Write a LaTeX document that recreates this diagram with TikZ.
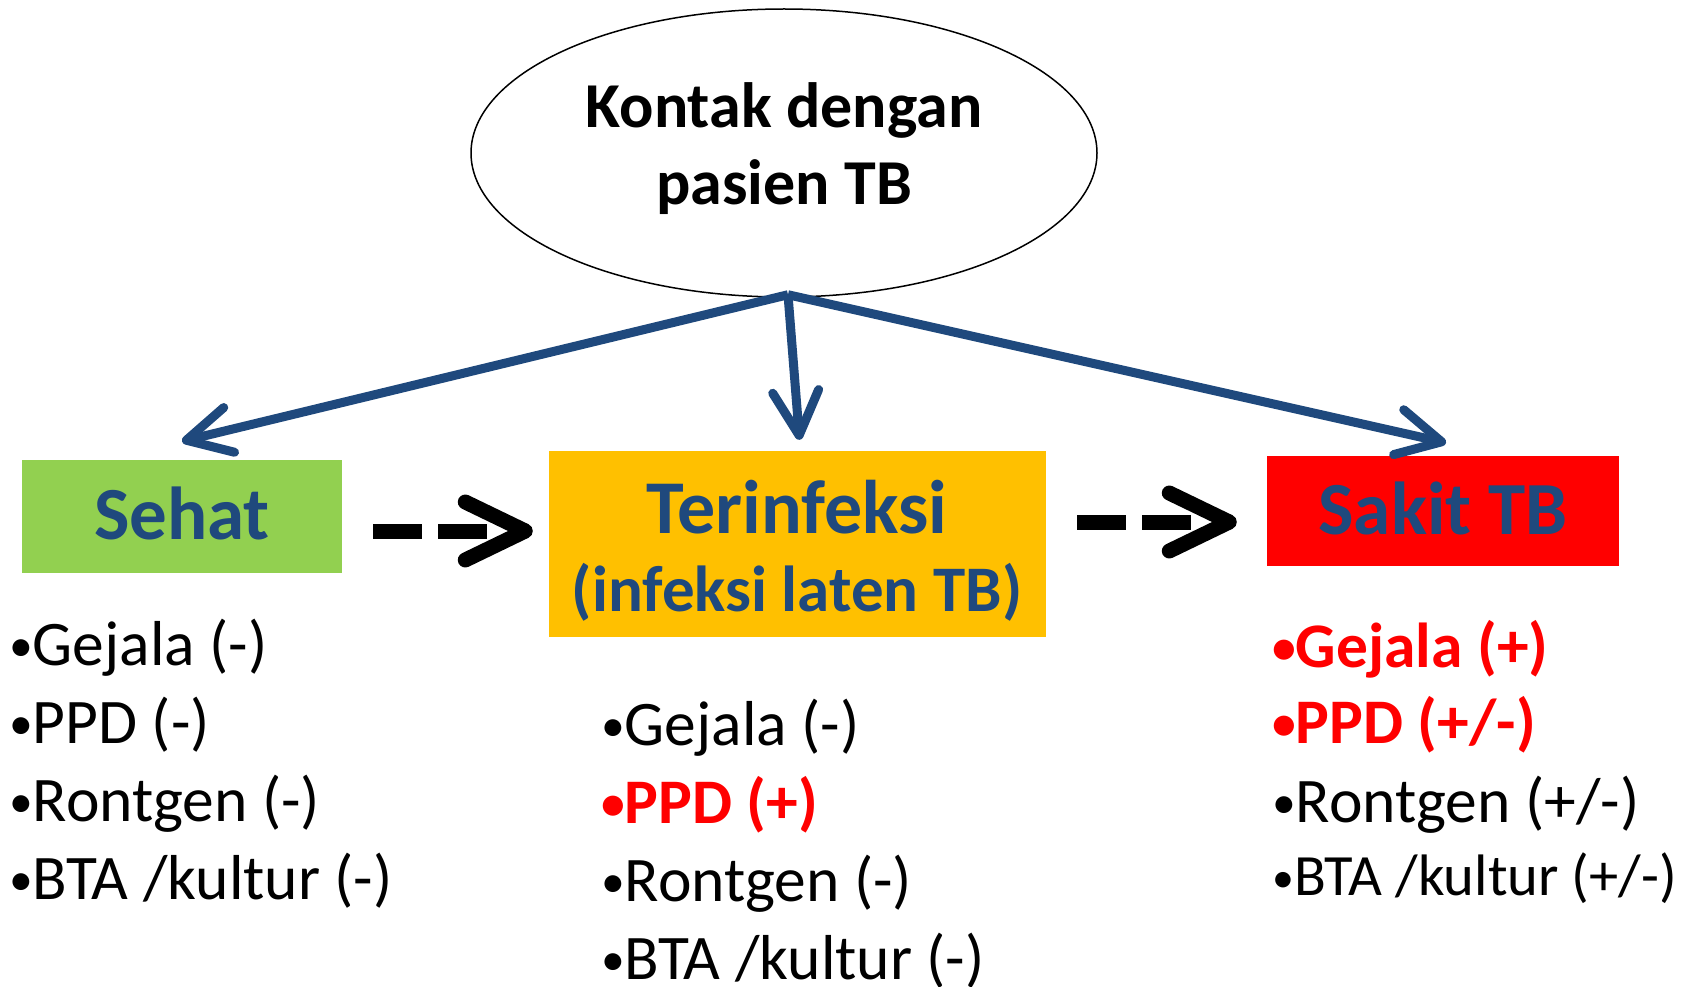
\documentclass[tikz,border=0pt]{standalone}
\usepackage{fontspec}
\usepackage{graphicx}
\setmainfont{Carlito}
\usetikzlibrary{arrows.meta,shapes.geometric}
\definecolor{tbblue}{RGB}{31,73,125}
\definecolor{tbgreen}{RGB}{146,208,80}
\definecolor{tborange}{RGB}{255,192,0}
\definecolor{tbred}{RGB}{255,0,0}
% small list bullet
\newcommand\tbdot{\raisebox{0.05em}{\scalebox{0.75}{•}}}

\begin{document}
\begin{tikzpicture}[x=1pt,y=-1pt,
  stagebox/.style={rectangle, inner sep=0pt, text=tbblue,
    font=\fontsize{75}{82}\selectfont\bfseries, text height=47.4pt, text depth=0pt},
  stagelabel/.style={anchor=base, inner sep=0pt, text=tbblue},
  flow/.style={draw=tbblue, line width=9pt,
    -{Straight Barb[length=44pt, width=46pt, round]}},
  next/.style={draw=black, line width=15pt,
    dash pattern=on 49pt off 16pt on 49pt off 300pt,
    -{Straight Barb[length=60pt, width=58pt, round]}},
  item/.style={anchor=base west, inner sep=0pt, font=\fontsize{63.5}{72}\selectfont},
  hot/.style={item, text=tbred, font=\fontsize{63.5}{72}\selectfont\bfseries}]

\fill[white] (0,0) rectangle (1690,987);
\useasboundingbox (0,0) rectangle (1690,987);

% source of the contact
\node[ellipse, draw, line width=1.5pt, minimum width=626pt, minimum height=288pt,
  inner sep=0pt] (kontak) at (784,153) {};
\node[align=center, inner sep=0pt, font=\fontsize{64}{77}\selectfont\bfseries]
  (kontakText) at (784,149) {Kontak dengan\\pasien TB};

% the three stages
\node[stagebox, fill=tbgreen, minimum width=320pt, minimum height=113pt]
  (sehat) at (182,516) {Sehat};
\node[rectangle, inner sep=0pt, fill=tborange, minimum width=497pt, minimum height=186pt]
  (terinf) at (797.5,544) {};
\node[stagelabel, font=\fontsize{76}{84}\selectfont\bfseries] (terinfA) at (797,533) {Terinfeksi};
\node[stagelabel, font=\fontsize{65}{72}\selectfont\bfseries] (terinfB) at (797,611) {(infeksi laten TB)};
\node[stagebox, fill=tbred, minimum width=352pt, minimum height=110pt]
  (sakit) at (1443,511) {Sakit TB};

% outcomes of the contact
\coordinate (src) at ([xshift=4pt,yshift=3pt]kontak.south);
\draw[flow] (src) -- ([yshift=18pt]sehat.north);
\draw[flow] (src) -- ([xshift=2pt,yshift=11pt]terinf.north);
\draw[flow] (src) -- ([xshift=3pt,yshift=13pt]sakit.north);

% progression between stages
\coordinate (lvlA) at (0,531);
\coordinate (lvlB) at (0,522);
\draw[next, shorten <=31pt, shorten >=16pt] (sehat.east |- lvlA) -- (terinf.west |- lvlA);
\draw[next, shorten <=31pt, shorten >=30pt] (terinf.east |- lvlB) -- (sakit.west |- lvlB);

% findings per stage
\node[item] (s1) at (9,665) {\tbdot Gejala (-)};
\node[item] (s2) at (9,743) {\tbdot PPD (-)};
\node[item] (s3) at (9,821) {\tbdot Rontgen (-)};
\node[item] (s4) at (9,899) {\tbdot BTA /kultur (-)};

\node[item] (t1) at (601,745) {\tbdot Gejala (-)};
\node[hot]  (t2) at (601,823) {\tbdot PPD (+)};
\node[item] (t3) at (601,901) {\tbdot Rontgen (-)};
\node[item] (t4) at (601,979) {\tbdot BTA /kultur (-)};

\node[hot]  (k1) at (1272,667) {\tbdot Gejala (+)};
\node[hot]  (k2) at (1272,743) {\tbdot PPD (+/-)};
\node[item] (k3) at (1272,822) {\tbdot Rontgen (+/-)};
\node[item, font=\fontsize{58.5}{66}\selectfont] (k4) at (1272,895) {\tbdot BTA /kultur (+/-)};
\end{tikzpicture}
\end{document}
